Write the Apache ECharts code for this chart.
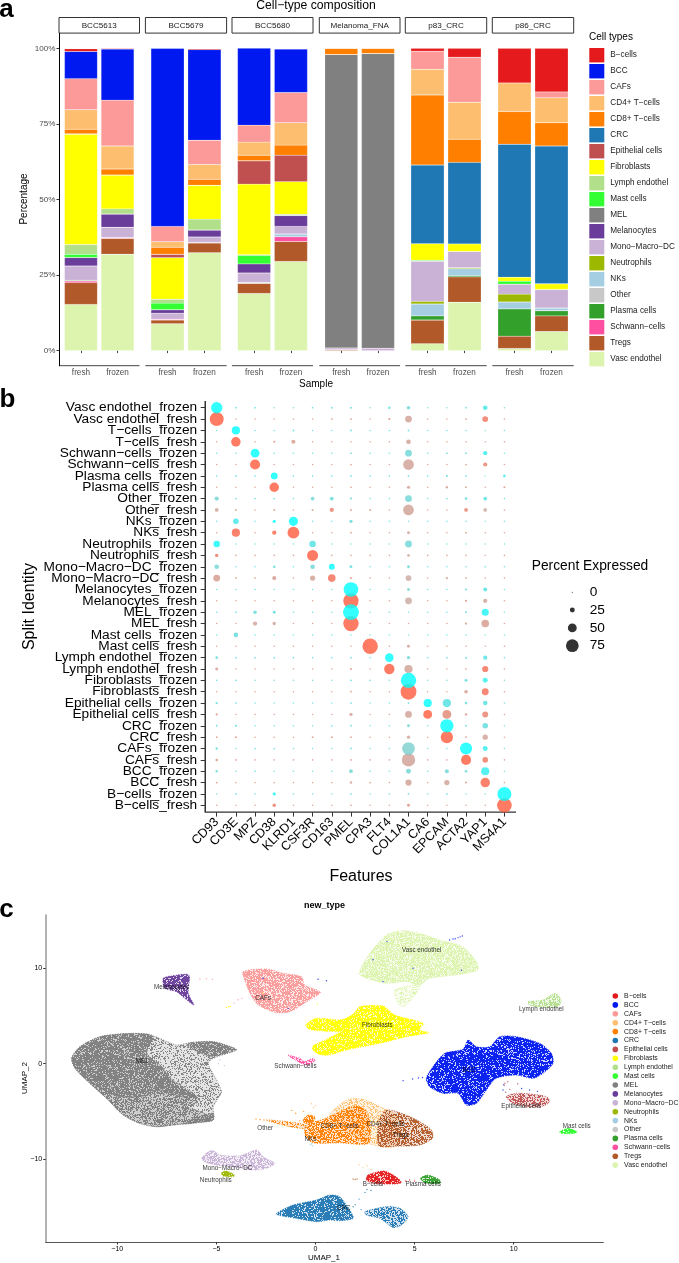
<!DOCTYPE html>
<html><head><meta charset="utf-8">
<style>html,body{margin:0;padding:0;background:#fff}#c{width:679px;height:1263px}</style>
<script src="https://cdn.jsdelivr.net/npm/echarts@6/dist/echarts.min.js"></script></head>
<body><div id="c"></div>
<script>
const FONT='"Liberation Sans",Arial,sans-serif';
const cellTypes=['B−cells','BCC','CAFs','CD4+ T−cells','CD8+ T−cells','CRC','Epithelial cells','Fibroblasts','Lymph endothel','Mast cells','MEL','Melanocytes','Mono−Macro−DC','Neutrophils','NKs','Other','Plasma cells','Schwann−cells','Tregs','Vasc endothel'];
const cellColors=['#E41A1C','#0019F0','#FB9A99','#FDBF6F','#FF7F00','#1F78B4','#C05050','#FFFF00','#B2DF8A','#33FF33','#808080','#6A3D9A','#CAB2D6','#9DB800','#A6CEE3','#C8C8C8','#33A02C','#FF4FA0','#B15928','#DDF4AF'];
const samples=['BCC5613','BCC5679','BCC5680','Melanoma_FNA','p83_CRC','p86_CRC'];
const sampleKinds=['fresh','frozen'];
// columns follow cellTypes
const bcc5613Fresh =[0.9,9.0,10.3,6.5,1.4,0,0.2,36.5,3.2,1.1,0,2.8,4.7,0,0,0,0.3,0.5,7.2,15.3];
const bcc5613Frozen=[0.2,16.9,15.2,7.6,2.0,0,0,11.2,1.7,0,0,4.4,3.4,0,0,0,0,0.3,5.2,31.9];
const bcc5679Fresh =[0,58.9,5.1,1.8,2.3,0,1.2,13.7,1.3,2.2,0,1.1,2.0,0,0,0,0,0.3,1.2,8.9];
const bcc5679Frozen=[0.3,30,8,4.9,2,0,0,11.2,3.6,0,0,2.3,1.8,0,0,0,0,0.2,3.2,32.4];
const bcc5680Fresh =[0,25.5,5.6,4.4,1.8,0,7.7,23.4,0.2,2.8,0,3.0,3.1,0,0.3,0,0,0,3.4,18.9];
const bcc5680Frozen=[0.1,14.4,10,7.4,3.3,0,8.8,10.8,0.4,0,0,3.6,2.5,0,0.9,0,0,1.6,6.6,29.5];
const melFnaFresh  =[0,0,0,0,2,0,0,0,0,0,97.1,0,0.6,0,0,0,0,0,0.3,0];
const melFnaFrozen =[0,0,0,0,1.7,0,0,0,0,0,97.5,0,0.8,0,0,0,0,0,0,0];
const p83Fresh     =[0.9,0,6,8.5,23.2,26,0,5.5,0,0.3,0,0,13.3,0.9,3.9,0,1.4,0,7.8,2.3];
const p83Frozen    =[2.9,0,14.9,12.3,7.6,27,0,2.5,0,0,0,0,5.4,0.3,2.3,0,0.4,0,8.4,16];
const p86Fresh     =[11.4,0,0,9.5,10.8,44,0,1.3,0,1,0,0,3.3,2.6,2.3,0,9,0,4.1,0.7];
const p86Frozen    =[14.4,0,1.9,8.3,7.7,45.6,0,1.9,0,0,0,0,6.1,0,0.9,0,1.7,0,5.2,6.3];
const composition=[[bcc5613Fresh,bcc5613Frozen],[bcc5679Fresh,bcc5679Frozen],[bcc5680Fresh,bcc5680Frozen],[melFnaFresh,melFnaFrozen],[p83Fresh,p83Frozen],[p86Fresh,p86Frozen]];
const percentTicks=[0,25,50,75,100];

// panel b
const identities=['Vasc endothel_frozen','Vasc endothel_fresh','T−cells_frozen','T−cells_fresh','Schwann−cells_frozen','Schwann−cells_fresh','Plasma cells_frozen','Plasma cells_fresh','Other_frozen','Other_fresh','NKs_frozen','NKs_fresh','Neutrophils_frozen','Neutrophils_fresh','Mono−Macro−DC_frozen','Mono−Macro−DC_fresh','Melanocytes_frozen','Melanocytes_fresh','MEL_frozen','MEL_fresh','Mast cells_frozen','Mast cells_fresh','Lymph endothel_frozen','Lymph endothel_fresh','Fibroblasts_frozen','Fibroblasts_fresh','Epithelial cells_frozen','Epithelial cells_fresh','CRC_frozen','CRC_fresh','CAFs_frozen','CAFs_fresh','BCC_frozen','BCC_fresh','B−cells_frozen','B−cells_fresh'];
const features=['CD93','CD3E','MPZ','CD38','KLRD1','CSF3R','CD163','PMEL','CPA3','FLT4','COL1A1','CA6','EPCAM','ACTA2','YAP1','MS4A1'];
const pctExpressed=[
[66,4,4,3,3,4,5,6,3,8,16,3,3,4,23,3],
[83,3,3,3,3,3,4,5,3,6,37,3,3,4,31,3],
[3,46,3,3,5,3,3,5,3,3,5,3,3,3,2,3],
[3,54,3,6,19,3,3,3,3,3,23,3,3,3,2,3],
[3,3,50,3,3,3,3,4,3,3,37,3,4,5,20,3],
[3,3,58,3,3,3,3,4,3,3,62,3,3,4,20,3],
[3,5,3,37,3,3,3,5,3,3,4,3,6,4,2,10],
[3,3,3,54,3,3,3,4,3,3,13,3,8,5,2,6],
[20,4,4,4,3,17,17,7,3,3,37,3,4,10,17,3],
[17,6,3,5,3,6,20,5,6,3,62,3,3,17,17,3],
[3,29,3,13,52,3,3,14,3,3,3,3,3,3,2,3],
[3,46,3,20,69,3,3,4,3,3,12,3,3,5,3,3],
[35,3,3,3,3,35,3,3,3,3,37,3,3,3,2,3],
[15,3,3,3,3,64,3,3,3,3,10,3,3,3,2,3],
[23,3,3,10,3,23,31,12,3,3,12,3,3,3,4,3],
[37,5,4,19,3,27,42,6,3,3,31,3,8,4,3,3],
[3,3,3,3,3,3,3,87,3,3,12,3,3,7,19,3],
[3,3,3,3,3,3,3,92,3,3,37,3,3,7,20,3],
[3,4,15,12,3,3,3,95,3,3,3,3,3,6,39,3],
[3,3,20,15,3,3,3,92,3,3,3,3,3,7,42,3],
[3,23,3,3,3,3,3,3,3,3,3,3,3,3,2,3],
[3,3,3,3,3,3,3,3,92,3,12,3,3,3,2,3],
[10,4,4,4,3,3,3,5,3,48,14,3,4,6,20,3],
[12,3,3,3,3,3,3,6,3,60,46,3,3,4,33,3],
[4,4,3,3,3,3,3,5,4,3,92,3,3,12,25,3],
[3,3,3,3,3,3,3,4,3,3,95,3,3,16,37,3],
[8,4,3,3,3,3,3,5,3,3,5,46,46,10,22,3],
[7,3,3,3,3,3,3,14,3,3,37,50,50,8,31,3],
[5,7,3,3,3,3,4,5,3,3,12,3,79,5,29,3],
[4,6,3,3,3,4,5,4,3,3,14,3,72,4,27,3],
[8,3,4,4,3,3,3,5,3,3,75,3,3,71,25,3],
[9,4,3,3,3,3,3,4,3,3,79,3,3,58,29,3],
[8,3,4,3,3,3,3,17,4,3,25,3,19,10,46,3],
[5,3,3,3,3,3,3,9,4,3,33,3,27,6,54,3],
[3,4,3,14,3,3,3,4,3,3,4,3,4,3,2,83],
[3,3,3,15,3,3,3,4,3,3,12,3,3,3,3,87]];
// average expression level per dot, 0 (muted) to 9 (saturated)
const exprLevel=['9333333334233353','9333333334133363','3933333333333333','3934233333133333','3393333333233363','3393333333133353','3339333333333335','3339333333132333','2333323333233343','1233325333133503','3539933333333333','3838933333133333','8333343333233333','6333393333133333','2333329333233333','2332317333031333','3333333933233343','3333333933033313','3333333933333373','3311333933333323','3333333333333333','3333333393133333','3333333339233343','2333333339133373','3333333333933363','3333333333933273','3333333333394343','3333333133194353','3333333333239333','3333333333139313','3333333333133963','3333333333133963','3333333233232363','3333333133131383','3337333333333339','3336333333333339'];
const pctLegend=['0','25','50','75'];

// panel c: outlines of each UMAP island, read in UMAP units
const melOuter=[[-12.3,.56],[-11.88,1.78],[-10.87,2.83],[-9.19,3.18],[-8.18,2.9],[-7.01,1.96],[-6.34,2.2],[-5.16,2.31],[-4.15,1.68],[-3.98,1.43],[-5.16,.56],[-5.41,.03],[-4.99,-1.71],[-4.74,-2.94],[-4.91,-3.64],[-5.16,-4.51],[-5.16,-5.91],[-5.83,-6.15],[-7.18,-6.43],[-8.02,-6.61],[-8.86,-6.26],[-9.7,-5.38],[-10.54,-3.64],[-11.55,-1.71],[-12.13,-.49]];
const melLower=[[-11.55,-1.71],[-10,-3.4],[-8.7,-3.4],[-7.9,-2.75],[-6.5,-3.6],[-6.05,-3.3],[-6,-4.2],[-6.6,-4.4],[-5.6,-5.2],[-5.16,-5.9],[-5.83,-6.15],[-7.18,-6.43],[-8.02,-6.61],[-8.86,-6.26],[-9.7,-5.38],[-10.54,-3.64]];
const melDense=[[-12.3,.56],[-11.88,1.78],[-10.87,2.83],[-9.19,3.18],[-8.18,2.9],[-8.5,1.1],[-7.9,0],[-7.2,-1.7],[-6.05,-3.3],[-6.5,-3.6],[-7.9,-2.75],[-8.7,-3.4],[-10,-3.4],[-11.55,-1.71],[-12.13,-.49]];
const melDense2=[[-6.5,1.9],[-6.34,2.2],[-5.16,2.31],[-4.15,1.68],[-3.98,1.43],[-5.2,.75],[-5.8,1.1]];
const melDense3=[[-5.9,-5.6],[-5.16,-5.2],[-5.16,-5.91],[-5.83,-6.15],[-6.6,-6.3]];
const melanocytesArea=[[-7.68,8.95],[-7.26,9.2],[-6.39,9.3],[-6.42,7.38],[-6.13,6.15],[-6.59,6.85],[-7.01,7.55],[-7.6,7.9]];
const cafsArea=[[-3.65,9.65],[-2.47,9.93],[-1.63,9.48],[-.71,9.13],[-.54,8.25],[.25,7.48],[-.45,6.5],[-1.29,5.45],[-1.97,5.35],[-2.89,6.15],[-3.31,7.38],[-3.51,8.43]];
const fibroArea=[[-.49,4.06],[.05,4.76],[1.3,4.6],[1.9,5.2],[2.23,5.98],[3.41,6.05],[4,5.1],[5.43,4.23],[5.26,3.53],[5.73,3.25],[4.59,2.83],[3.24,2.13],[1.56,1.43],[.72,.91],[.2,.95],[-.15,1.5],[-.1,1.9],[.6,2.6],[1.2,3.3],[.5,3.4],[-.3,3.6]];
const schwannArea=[[-1.38,.91],[-.79,.56],[-.54,.21],[-.12,.56],[-.03,.31],[-.45,-.14],[-.87,.21],[-1.29,.73]];
const vascArea=[[2.2,9.48],[2.74,11.57],[3.58,13.5],[4.33,13.95],[5.26,13.67],[6.27,12.97],[7.44,12.27],[8.12,10.7],[8.2,9.83],[7.11,9.3],[5.76,8.95],[5.26,8.25],[4.59,8.6],[3.58,8.43],[2.57,8.95]];
const vascTail=[[4,7.73],[5.26,8.25],[4.84,6.68],[4.42,5.98],[4.17,6.33]];
const lymphArea=[[10.72,6.5],[11.48,6.68],[12.07,7.38],[12.4,6.68],[12.23,5.98],[11.48,5.91],[10.8,6.15]];
const bccArea=[[5.59,-1.54],[5.93,-.31],[6.52,1.08],[7.44,1.5],[7.7,2.48],[8.12,1.78],[8.79,1.78],[9.29,2.83],[10.13,2.83],[11.31,2.13],[11.9,1.08],[11.98,.03],[11.48,-1.01],[10.97,-1.54],[10.13,-1.19],[9.12,-1.54],[8.62,-2.76],[8.12,-4.16],[7.61,-4.34],[7.19,-3.11],[6.44,-3.11],[5.76,-2.41]];
const epithelialArea=[[9.63,-3.46],[10.13,-3.11],[10.8,-3.18],[11.65,-3.46],[11.81,-3.99],[11.48,-4.44],[10.64,-4.51],[9.96,-4.16]];
const mastArea=[[12.32,-7.13],[12.74,-6.78],[13.19,-7.13],[13.07,-7.31],[12.4,-7.31]];
const cd8Area=[[-.54,-6.78],[-.4,-6.3],[.3,-5.9],[1.23,-5.03],[2,-4.4],[2.6,-5],[2.7,-8.3],[1.23,-8.3],[-.12,-8.3],[-.5,-7.6]];
const cd8Blob=[[-.62,-5.91],[-.37,-5.38],[-.03,-5.56],[-.12,-6.08],[-.54,-6.26]];
const cd8Tail=[[-2.47,-5.91],[-1.46,-6.08],[-.54,-6.4],[-.54,-6.78],[-1.29,-6.61]];
const cd4Area=[[.72,-5.56],[1.56,-3.81],[2.4,-3.74],[3.58,-4.86],[4.08,-5.49],[4.08,-8.64],[2.4,-8.18]];
const tregsArea=[[3.58,-4.86],[4.6,-5.4],[5.26,-6.09],[5.85,-6.96],[5.9,-7.83],[5.26,-8.53],[4.08,-8.64],[3.2,-8.6],[3.2,-6]];
const monoArea=[[-5.75,-9.93],[-5.24,-9.06],[-4.82,-9.58],[-3.82,-9.65],[-2.97,-9.06],[-2.64,-9.76],[-2.05,-10.45],[-2.47,-10.98],[-3.14,-11.15],[-4.15,-10.8],[-4.99,-10.63],[-5.5,-10.38]];
const neutroArea=[[-4.74,-11.43],[-4.49,-11.26],[-4.07,-11.68],[-4.15,-11.85],[-4.66,-11.78]];
const crcLeft=[[-1.97,-15.77],[-1.13,-14.83],[.05,-14.3],[.72,-13.78],[1.22,-13.95],[1.73,-15.35],[1.9,-16.22],[1.22,-16.47],[.72,-16.4],[.05,-16.57],[-.96,-16.22]];
const crcRight=[[2.49,-15.52],[3.58,-15],[4.25,-15.17],[4.67,-16.05],[4.33,-16.92],[3.91,-17.17],[3.24,-16.22],[2.57,-15.87]];
const bCellArea=[[2.65,-11.68],[3.49,-11.26],[4.17,-12.03],[4.33,-12.48],[3.91,-12.62],[2.91,-12.55],[2.57,-12.2]];
const plasmaArea=[[5.29,-12.03],[5.68,-11.68],[6.27,-12.2],[6.3,-12.55],[5.59,-12.55]];
// [cell type, outline, stipple density]
const islands=[['MEL',melOuter,'x'],['MEL',melLower,'s'],['MEL',melDense,'d'],['MEL',melDense2,'d'],['MEL',melDense3,'d'],['Melanocytes',melanocytesArea,'d'],['CAFs',cafsArea,'m'],['Fibroblasts',fibroArea,'d'],['Schwann−cells',schwannArea,'s'],['Vasc endothel',vascArea,'m'],['Vasc endothel',vascTail,'x'],['Lymph endothel',lymphArea,'s'],['BCC',bccArea,'d'],['Epithelial cells',epithelialArea,'s'],['Mast cells',mastArea,'d'],['CD8+ T−cells',cd8Area,'s'],['CD8+ T−cells',cd8Blob,'d'],['CD8+ T−cells',cd8Tail,'x'],['CD4+ T−cells',cd4Area,'x'],['Tregs',tregsArea,'s'],['Mono−Macro−DC',monoArea,'s'],['Neutrophils',neutroArea,'d'],['CRC',crcLeft,'d'],['CRC',crcRight,'s'],['B−cells',bCellArea,'d'],['Plasma cells',plasmaArea,'d']];
const strayPoints={
'BCC':[[6.94,13.08],[7.19,13.22],[7.41,13.39],[6.77,12.97],[7.05,13.1],[7.3,13.3],[3.61,12.8],[2.9,10.9],[3.41,8.6],[4.92,10],[7.36,9.8],[4.42,-1.78],[4.9,-1.6],[5.2,-1.5],[5.4,-1.45],[-2.64,8.95],[.55,8.7],[.13,8.85],[-1.38,5.8],[10.8,-2.76],[11.2,-2.9],[10.4,-2.6],[9.46,-2.76],[9.5,-2.2]],
'Epithelial cells':[[9.55,-2.06],[9.7,-1.9],[10.2,-2.1],[9.8,-2.7],[9.6,-3],[9.52,-2.3]],
'Fibroblasts':[[-4.4,5.98],[-4.3,6],[-4.5,5.9],[.1,6.3],[-2.64,7.4]],
'CAFs':[[-3.9,6.7],[-3.7,6.85],[-4.1,6.35],[-5.83,8.88],[-5.5,8.9],[-5.2,8.85]],
'Mono−Macro−DC':[[-4.82,.38],[-4.6,-.2],[-4.9,0]],
'CD8+ T−cells':[[-3,-5.8],[-2.8,-5.85],[-2.6,-5.9],[-1.2,-4.9],[-1,-5.2],[-.6,-5],[-.8,-6],[-.3,-7]],
'CD4+ T−cells':[[-.2,-4.2],[0,-4.4],[-.1,-4.6],[2.4,-10.9],[2.6,-10.7],[2.8,-11.1],[2.2,-10.6]],
'NKs':[[-.2,-8.4],[-.15,-8.6],[-.25,-8.5]],
'Tregs':[[1.9,-12.1],[2,-12.15],[2.1,-12.1]],
'CRC':[[2,-14.8],[2.2,-14.2],[2.5,-13.5],[1.9,-15],[2.3,-15.3],[2.6,-13.2],[2.8,-13.3]],
'B−cells':[[4.75,-12.2],[5,-12.3],[4.55,-12.3]]};
const clusterLabels=[['Melanocytes',-7.26,7.97],['CAFs',-2.64,6.85],['MEL',-8.74,.28],['Schwann−cells',-1.01,-.31],['Other',-2.54,-6.78],['NKs',-.25,-7.9],['CD8+ T−cells',1.22,-6.61],['CD4+ T−cells',3.53,-6.33],['Tregs',4.3,-7.52],['Mono−Macro−DC',-4.44,-10.94],['Neutrophils',-5.03,-12.2],['CRC',1.43,-15.17],['B−cells',2.9,-12.62],['Plasma cells',5.43,-12.66],['Epithelial cells',10.38,-4.51],['BCC',7.75,-.73],['Fibroblasts',3.12,4.02],['Vasc endothel',5.36,11.85],['Lymph endothel',11.39,5.7],['Mast cells',13.18,-6.54]];
const umapXTicks=[-10,-5,0,5,10];
const umapYTicks=[-10,0,10];

// ---------- layout ----------
const panelBoxes=[[59,80.5],[145.4,81.2],[232,81],[319.3,80.7],[405.3,81.4],[492.3,81.4]];
const grid=[],xAxis=[],yAxis=[],series=[],graphic=[];
const txt=(text,x,y,size,o={})=>graphic.push({type:'text',x,y,rotation:o.rot||0,silent:true,z:20,style:{text,fontSize:size,fontFamily:FONT,fontWeight:o.bold?'bold':'normal',fill:o.fill||'#000',align:o.align||'center',verticalAlign:'middle'}});
const rule=(x1,y1,x2,y2,stroke,lineWidth)=>graphic.push({type:'line',silent:true,shape:{x1,y1,x2,y2},style:{stroke,lineWidth}});

samples.forEach((s,p)=>{
  const [l,w]=panelBoxes[p],u=w/2.2; // ggplot pads a discrete axis by 0.6 of a band, category axes by 0.5
  grid.push({left:l+0.1*u,top:33.3,width:2*u,height:332.4});
  xAxis.push({type:'category',gridIndex:p,data:sampleKinds,
    axisLine:{show:false},
    axisTick:{show:true,alignWithLabel:true,length:2.5,lineStyle:{color:'#444'}},
    axisLabel:{show:true,fontSize:8.2,color:'#4D4D4D',fontFamily:FONT,margin:3.5,interval:0}});
  yAxis.push({type:'value',gridIndex:p,min:-5,max:105,show:p===0,offset:0.1*u,splitLine:{show:false},
    axisLine:{show:true,onZero:false,lineStyle:{color:'#000',width:1}},
    axisTick:{show:true,length:2.5,lineStyle:{color:'#333'},customValues:percentTicks},
    axisLabel:{fontSize:8.1,color:'#4D4D4D',fontFamily:FONT,margin:3.5,customValues:percentTicks,formatter:v=>v+'%'}});
  // stacking runs upward, so the last legend entry sits at the bottom
  for(let i=cellTypes.length-1;i>=0;i--){
    series.push({type:'bar',name:cellTypes[i],xAxisIndex:p,yAxisIndex:p,stack:s,barWidth:'90%',
      itemStyle:{color:cellColors[i],borderColor:'rgba(255,255,255,0.35)',borderWidth:0.4},
      data:[composition[p][0][i],composition[p][1][i]]});
  }
  graphic.push({type:'rect',silent:true,shape:{x:l,y:17.5,width:w,height:15.6},style:{fill:'#fff',stroke:'#333',lineWidth:1}});
  rule(l,365.7,l+w,365.7,'#444',1);
  txt(s,l+w/2,25.6,8.1,{fill:'#1A1A1A'});
});
txt('Cell−type composition',316,5.5,12.2);
txt('Percentage',24,199,10,{rot:Math.PI/2});
txt('Sample',316,384,10);

// panel b
const B=grid.length;
grid.push({left:207.1,top:402.04,width:306.9,height:408.96});
xAxis.push({type:'category',gridIndex:B,data:features,offset:1.1,
  axisLine:{show:false},
  axisTick:{show:true,alignWithLabel:true,length:4.5,lineStyle:{color:'#333'}},
  axisLabel:{fontSize:12.6,color:'#000',fontFamily:FONT,rotate:45,margin:8,interval:0}});
yAxis.push({type:'category',gridIndex:B,inverse:true,data:identities,offset:1.9,
  axisLine:{show:false},
  axisTick:{show:true,alignWithLabel:true,length:4.5,lineStyle:{color:'#333'}},
  axisLabel:{fontSize:13.7,color:'#000',fontFamily:FONT,margin:8,interval:0}});
rule(205.2,400.9,205.2,812.1,'#000',1.2);
rule(204.6,812.1,516,812.1,'#333',1.2);
const dia=p=>1.1+0.155*p;
const mix=(a,b,t)=>'rgb('+a.map((c,i)=>Math.round(c+(b[i]-c)*t)).join(',')+')';
const FROZEN=[[138,200,200],[0,255,255]],FRESH=[[200,168,158],[255,90,60]];
['fresh','frozen'].forEach(kind=>{
  const pal=kind==='fresh'?FRESH:FROZEN,data=[];
  identities.forEach((id,r)=>{ if(!id.endsWith(kind))return;
    features.forEach((f,c)=>data.push({value:[c,r,pctExpressed[r][c]],itemStyle:{color:mix(pal[0],pal[1],+exprLevel[r][c]/9)}}));
  });
  data.sort((a,b)=>a.value[2]-b.value[2]);
  series.push({type:'scatter',name:kind,xAxisIndex:B,yAxisIndex:B,symbolSize:v=>dia(v[2]),data,silent:true,z:kind==='fresh'?2:3});
});
txt('Features',361,876.5,16);
txt('Split Identity',30,606.5,16,{rot:Math.PI/2});
txt('Percent Expressed',590,566,13.8);
// size legend
const L=grid.length;
grid.push({left:564.3,top:583.4,width:16,height:71.2});
xAxis.push({type:'category',gridIndex:L,data:[''],show:false});
yAxis.push({type:'category',gridIndex:L,inverse:true,data:pctLegend,position:'right',axisLine:{show:false},axisTick:{show:false},
  axisLabel:{fontSize:13.7,color:'#000',fontFamily:FONT,margin:9.4,interval:0}});
series.push({type:'scatter',name:'Percent Expressed',xAxisIndex:L,yAxisIndex:L,silent:true,symbolSize:v=>dia(+v[1]),itemStyle:{color:'#000'},data:pctLegend.map(p=>['',p])});

// panel c
const C=grid.length;
grid.push({left:45.7,top:915,width:557.6,height:327});
const umapFmt=v=>v===0?'0':String(v).replace('-','−');
xAxis.push({type:'value',gridIndex:C,min:-13.61,max:14.52,splitLine:{show:false},
  axisLine:{show:true,onZero:false,lineStyle:{color:'#555',width:1}},
  axisTick:{show:true,length:2.5,lineStyle:{color:'#333'},customValues:umapXTicks},
  axisLabel:{fontSize:7,color:'#000',fontFamily:FONT,margin:3.5,customValues:umapXTicks,formatter:umapFmt}});
yAxis.push({type:'value',gridIndex:C,min:-18.7,max:15.59,splitLine:{show:false},
  axisLine:{show:true,onZero:false,lineStyle:{color:'#999',width:1.5}},
  axisTick:{show:true,length:2.5,lineStyle:{color:'#333'},customValues:umapYTicks},
  axisLabel:{fontSize:7,color:'#000',fontFamily:FONT,margin:3.5,customValues:umapYTicks,formatter:umapFmt}});
// stipple tile (texture only, no data): the island colour with scattered pinholes from a fixed hash, softened a little
const HOLE_SHARE={d:0.2,m:0.3,s:0.45,x:0.7},TILE=128;
const hash=(x,y)=>{const v=Math.sin(x*127.1+y*311.7)*43758.5453;return v-Math.floor(v);};
function tile(color,kind){const c=document.createElement('canvas');c.width=c.height=TILE;const g=c.getContext('2d');g.fillStyle=color;g.fillRect(0,0,TILE,TILE);
  for(let y=0;y<TILE;y++)for(let x=0;x<TILE;x++)if(hash(x,y)<HOLE_SHARE[kind])g.clearRect(x,y,1,1);
  g.globalAlpha=0.22;g.fillRect(0,0,TILE,TILE);
  return c;}
const colorOf=n=>cellColors[cellTypes.indexOf(n)];
cellTypes.forEach(name=>{
  const parts=islands.filter(i=>i[0]===name);
  if(parts.length){
    const tiles={};
    series.push({type:'custom',name,xAxisIndex:C,yAxisIndex:C,coordinateSystem:'cartesian2d',silent:true,clip:true,z:2,
      encode:{x:0,y:1},data:parts.map((_,i)=>[i,0]),
      renderItem:(pr,api)=>{const it=parts[api.value(0)];
        tiles[it[2]]=tiles[it[2]]||tile(colorOf(name),it[2]);
        return {type:'polygon',shape:{points:it[1].map(q=>api.coord(q)),smooth:0.25},
          style:{fill:{image:tiles[it[2]],repeat:'repeat'},stroke:colorOf(name),lineWidth:1,lineDash:[1,1.6],opacity:0.95}};}});
  }
  if(strayPoints[name])series.push({type:'scatter',name,xAxisIndex:C,yAxisIndex:C,silent:true,z:2,symbolSize:1.4,itemStyle:{color:colorOf(name)},data:strayPoints[name]});
});
series.push({type:'scatter',name:'labels',xAxisIndex:C,yAxisIndex:C,silent:true,z:5,symbolSize:0,
  data:clusterLabels.map(l=>({name:l[0],value:[l[1],l[2]]})),
  label:{show:true,position:'inside',formatter:'{b}',fontSize:6.3,color:'#000',fontFamily:FONT}});
txt('new_type',324.5,906,9,{bold:true});
txt('UMAP_1',324,1258,8);
txt('UMAP_2',25,1078,8,{rot:Math.PI/2});
txt('a',6.5,10,26,{bold:true});
txt('b',7.5,400,26,{bold:true});
txt('c',6.5,910,26,{bold:true});
txt('Cell types',589,37.5,10,{align:'left'});

const chart=echarts.init(document.getElementById('c'),null,{renderer:'canvas'});
chart.setOption({animation:false,textStyle:{fontFamily:FONT},grid,xAxis,yAxis,series,graphic,
  legend:[
   {data:cellTypes,orient:'vertical',left:589.3,top:48,itemWidth:15,itemHeight:14.4,itemGap:1.6,selectedMode:false,icon:'rect',itemStyle:{borderWidth:0},
    textStyle:{fontSize:8.2,color:'#1A1A1A',fontFamily:FONT,padding:[0,0,0,1]},padding:0},
   {data:cellTypes,orient:'vertical',left:612.5,top:992.5,itemWidth:5.6,itemHeight:5.6,itemGap:1.9,selectedMode:false,icon:'circle',itemStyle:{borderWidth:0},
    textStyle:{fontSize:6.9,color:'#1A1A1A',fontFamily:FONT,padding:[0,0,0,1]},padding:0}
  ]});
</script></body></html>
